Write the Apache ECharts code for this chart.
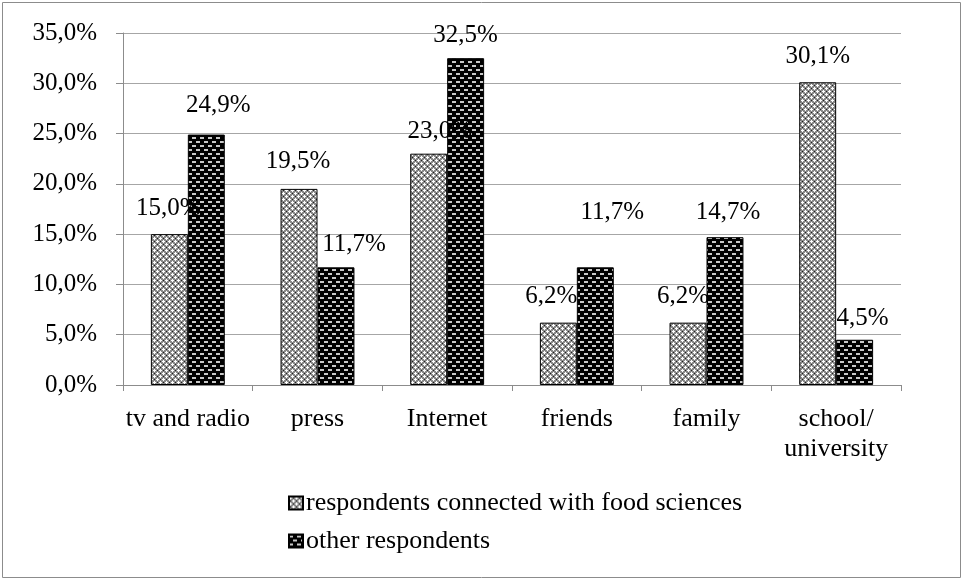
<!DOCTYPE html>
<html>
<head>
<meta charset="utf-8">
<script src="https://cdn.jsdelivr.net/npm/echarts@6/dist/echarts.min.js"></script>
<style>
  html, body { margin: 0; padding: 0; background: #fff; }
  #chart { width: 963px; height: 581px; }
</style>
</head>
<body>
<div id="chart"></div>
<script>
  const categories = ['tv and radio', 'press', 'Internet', 'friends', 'family', 'school/\nuniversity'];
  const foodSciences = [15.0, 19.5, 23.0, 6.2, 6.2, 30.1];
  const otherResp = [24.9, 11.7, 32.5, 11.7, 14.7, 4.5];
  const seriesNames = ['respondents connected with food sciences', 'other respondents'];

  // label nudges, in px: [dx, dy]
  const foodShift = [[-1, -13], [-1, -15], [11, -10], [-7, -14], [-5, -14], [0, -13]];
  const otherShift = [[12, -17], [18, -10], [0, -10], [17, -42], [3, -12], [8, -9]];

  const fmt = v => v.toFixed(1).replace('.', ',') + '%';

  // light tile: white crosses on grey
  function lightTile() {
    const c = document.createElement('canvas');
    c.width = 6; c.height = 6;
    const g = c.getContext('2d');
    g.fillStyle = '#8a8a8a';
    g.fillRect(0, 0, 6, 6);
    g.fillStyle = '#ffffff';
    [[1, 1], [4, 4]].forEach(([x, y]) => {
      g.fillRect(x - 1, y, 3, 1);
      g.fillRect(x, y - 1, 1, 3);
    });
    g.fillStyle = '#202020';
    g.fillRect(4, 1, 1, 1);
    g.fillRect(1, 4, 1, 1);
    return c;
  }

  // dark tile with staggered light dashes
  function darkTile() {
    const c = document.createElement('canvas');
    c.width = 8; c.height = 8;
    const g = c.getContext('2d');
    g.fillStyle = '#000000';
    g.fillRect(0, 0, 8, 8);
    g.fillStyle = '#c8c8c8';
    g.fillRect(0, 1, 4, 2);
    g.fillRect(4, 5, 4, 2);
    return c;
  }

  const chart = echarts.init(document.getElementById('chart'));

  const mkData = (vals, shifts) => vals.map((v, i) => ({
    value: v,
    label: { offset: shifts[i] }
  }));

  const labelStyle = {
    show: true,
    position: 'top',
    distance: 0,
    color: '#000',
    fontFamily: 'Liberation Serif',
    fontSize: 25,
    formatter: p => fmt(p.value)
  };

  const option = {
    animation: false,
    textStyle: { fontFamily: 'Liberation Serif' },
    graphic: [{
      type: 'rect',
      shape: { x: 2.5, y: 2.5, width: 958, height: 575 },
      style: { fill: 'none', stroke: '#8c8c8c', lineWidth: 1 },
      silent: true
    }],
    grid: { left: 123, right: 62, top: 33, bottom: 196 },
    legend: {
      orient: 'vertical',
      left: 288,
      top: 490,
      padding: 0,
      itemWidth: 14,
      itemHeight: 13,
      itemGap: 12,
      icon: 'rect',
      textStyle: { fontFamily: 'Liberation Serif', fontSize: 26, color: '#000', padding: [0, 0, 0, -2] },
      data: seriesNames
    },
    xAxis: {
      type: 'category',
      data: categories,
      axisLine: { lineStyle: { color: '#8c8c8c', width: 1 } },
      axisTick: { show: true, length: 6, lineStyle: { color: '#8c8c8c' } },
      axisLabel: {
        color: '#000',
        fontFamily: 'Liberation Serif',
        fontSize: 26,
        lineHeight: 30,
        margin: 19,
        interval: 0
      }
    },
    yAxis: {
      type: 'value',
      min: 0,
      max: 35,
      interval: 5,
      axisLine: { show: true, lineStyle: { color: '#8c8c8c', width: 1 } },
      axisTick: { show: true, length: 7, lineStyle: { color: '#8c8c8c' } },
      splitLine: { lineStyle: { color: '#a6a6a6', width: 1 } },
      axisLabel: {
        color: '#000',
        fontFamily: 'Liberation Serif',
        fontSize: 25,
        margin: 26,
        formatter: v => fmt(v)
      }
    },
    series: [
      {
        name: seriesNames[0],
        type: 'bar',
        barGap: '0%',
        barCategoryGap: '43%',
        data: mkData(foodSciences, foodShift),
        itemStyle: {
          color: { image: lightTile(), repeat: 'repeat' },
          borderColor: '#000',
          borderWidth: 1
        },
        label: labelStyle
      },
      {
        name: seriesNames[1],
        type: 'bar',
        data: mkData(otherResp, otherShift),
        itemStyle: {
          color: { image: darkTile(), repeat: 'repeat' },
          borderColor: '#000',
          borderWidth: 1
        },
        label: labelStyle
      }
    ]
  };

  chart.setOption(option);
</script>
</body>
</html>
